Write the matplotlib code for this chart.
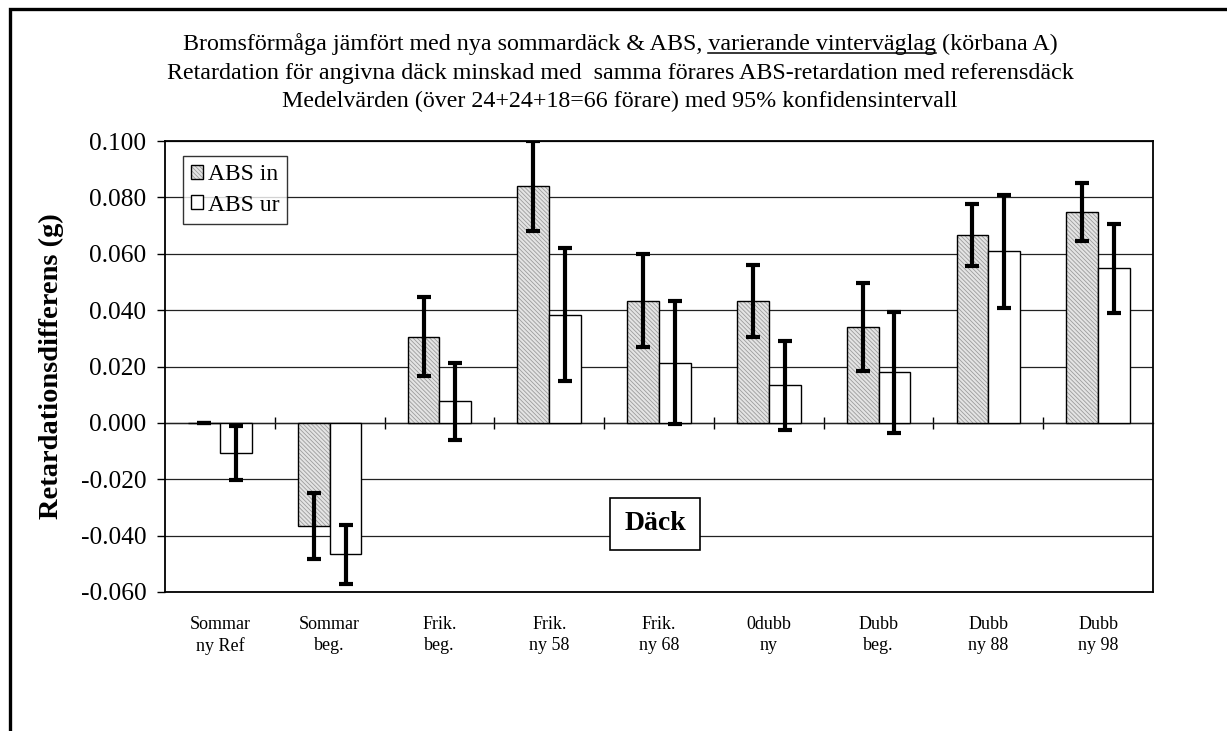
import numpy as np
import matplotlib
matplotlib.use("Agg")
import matplotlib.pyplot as plt
from matplotlib.patches import Rectangle, Patch
from matplotlib.lines import Line2D

plt.rcParams['font.family'] = ['Liberation Serif', 'DejaVu Serif']
plt.rcParams['hatch.linewidth'] = 0.6

# data
categories = ["Sommar\nny Ref", "Sommar\nbeg.", "Frik.\nbeg.", "Frik.\nny 58", "Frik.\nny 68",
              "0dubb\nny", "Dubb\nbeg.", "Dubb\nny 88", "Dubb\nny 98"]
abs_in = [0.000, -0.0365, 0.0305, 0.0841, 0.0434, 0.0432, 0.0340, 0.0665, 0.0749]
abs_in_ci = [0.000, 0.0117, 0.0140, 0.0160, 0.0164, 0.0127, 0.0155, 0.0110, 0.0102]
abs_ur = [-0.0107, -0.0466, 0.0076, 0.0384, 0.0214, 0.0133, 0.0179, 0.0608, 0.0549]
abs_ur_ci = [0.0097, 0.0104, 0.0137, 0.0235, 0.0219, 0.0157, 0.0216, 0.0202, 0.0158]
yticks = [-0.06, -0.04, -0.02, 0.0, 0.02, 0.04, 0.06, 0.08, 0.10]

W, H = 1227, 731
fig = plt.figure(figsize=(W / 100, H / 100), dpi=100)
ax = fig.add_axes([165 / W, 1 - 592 / H, (1153 - 165) / W, (592 - 141) / H])

x = np.arange(len(categories))
bw = 0.289
hatch_fc, hatch_col, hatch = '#e4e4e4', '#9c9c9c', '\\\\\\\\\\\\\\\\'

# hatched fill first, then black outline on top
ax.bar(x - bw / 2, abs_in, bw, facecolor=hatch_fc, edgecolor=hatch_col, linewidth=0,
       hatch=hatch, zorder=3)
ax.bar(x - bw / 2, abs_in, bw, facecolor='none', edgecolor='black', linewidth=1.0, zorder=3)
ax.bar(x + bw / 2, abs_ur, bw, facecolor='white', edgecolor='black', linewidth=1.0, zorder=3)
ax.errorbar(x - bw / 2, abs_in, yerr=abs_in_ci, fmt='none', ecolor='black',
            elinewidth=3, capsize=4.8, capthick=3, zorder=4)
ax.errorbar(x + bw / 2, abs_ur, yerr=abs_ur_ci, fmt='none', ecolor='black',
            elinewidth=3, capsize=4.8, capthick=3, zorder=4)

ax.set_xlim(-0.5, len(categories) - 0.5)
ax.set_ylim(-0.06, 0.10)
ax.set_yticks(yticks)
ax.set_yticklabels([f"{v:.3f}" for v in yticks])
ax.yaxis.grid(True, color='#222222', linewidth=0.9, zorder=0)
ax.set_axisbelow(True)
ax.tick_params(axis='y', direction='out', length=6, width=1, pad=7.5, labelsize=18.3)
ax.set_xticks(x)
ax.set_xticklabels(categories, fontsize=13, linespacing=1.35)
ax.tick_params(axis='x', length=0, pad=17)
for s in ax.spines.values():
    s.set_linewidth(1.3)

# category axis crossing at zero with tick marks between groups
zero_pos = (0 - (-0.06)) / 0.16
sec = ax.secondary_xaxis(zero_pos)
sec.set_xticks(np.arange(len(categories) - 1) + 0.5)
sec.set_xticklabels([])
sec.tick_params(direction='inout', length=9, width=1)
sec.spines['bottom'].set_linewidth(1.0)
sec.spines['bottom'].set_color('#444444')

# legend: hatched square with black outline, plain white square
h_in = (Patch(facecolor=hatch_fc, edgecolor=hatch_col, hatch=hatch, linewidth=0),
        Patch(facecolor='none', edgecolor='black', linewidth=1.0))
h_ur = Patch(facecolor='white', edgecolor='black', linewidth=1.0)
leg = ax.legend([h_in, h_ur], ['ABS in', 'ABS ur'],
                loc='upper left', bbox_to_anchor=(0.018, 0.967), borderaxespad=0,
                fontsize=17, frameon=True, fancybox=False, edgecolor='black',
                handlelength=0.5, handleheight=0.55, handletextpad=0.2,
                borderpad=0.35, labelspacing=0.4)
leg.get_frame().set_linewidth(1.0)

fig.text(51 / W, 1 - 366 / H, "Retardationsdifferens (g)", rotation=90, fontsize=20.5,
         fontweight='bold', ha='center', va='center')

ax.text(655 / W, 1 - 524 / H, "Däck", transform=fig.transFigure, fontsize=20,
        fontweight='bold', ha='center', va='center', zorder=6,
        bbox=dict(boxstyle='square,pad=0.5', facecolor='white', edgecolor='black', linewidth=1.2))

# title lines
cx = 620 / W
tsize = 17.3
line1_pre = "Bromsförmåga jämfört med nya sommardäck & ABS, "
line1_ul = "varierande vinterväglag"
line1 = line1_pre + line1_ul + " (körbana A)"
t1 = fig.text(cx, 1 - 50 / H, line1, fontsize=tsize, ha='center', va='baseline')
fig.text(cx, 1 - 79 / H, "Retardation för angivna däck minskad med  samma förares ABS-retardation med referensdäck",
         fontsize=tsize, ha='center', va='baseline')
fig.text(cx, 1 - 107 / H, "Medelvärden (över 24+24+18=66 förare) med 95% konfidensintervall",
         fontsize=tsize, ha='center', va='baseline')

# underline under "varierande vinterväglag"
r = fig.canvas.get_renderer()
def text_w(s):
    t = fig.text(0, 0, s, fontsize=tsize)
    w = t.get_window_extent(r).width
    t.remove()
    return w
bb = t1.get_window_extent(r)
x0 = bb.x0 + text_w(line1_pre + "v") - text_w("v")
x1 = bb.x0 + text_w(line1_pre + line1_ul)
yu = (H - 52.5)
fig.add_artist(Line2D([x0 / W, x1 / W], [yu / H, yu / H], color='black', linewidth=1.1,
                      transform=fig.transFigure))

# outer chart border (extends beyond the picture on the right and bottom)
fig.add_artist(Rectangle((10 / W, -0.2), 1.5, 1.2 - 9 / H, transform=fig.transFigure,
                         fill=False, edgecolor='black', linewidth=2.4))

fig.savefig("out.png", dpi=100)
